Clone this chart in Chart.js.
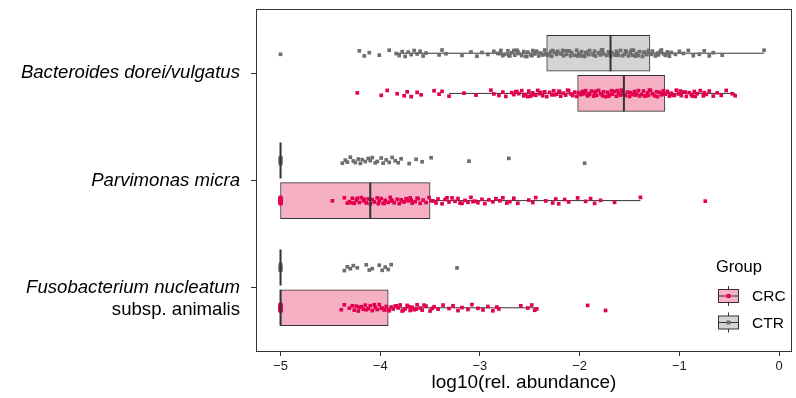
<!DOCTYPE html>
<html>
<head>
<meta charset="utf-8">
<script src="https://cdn.jsdelivr.net/npm/chart.js@4.4.1/dist/chart.umd.min.js"></script>
<style>
  html, body { margin: 0; padding: 0; background: #fff; }
  #wrap { width: 796px; height: 398px; }
</style>
</head>
<body>
<div id="wrap"><canvas id="chart" width="796" height="398"></canvas></div>
<script>
// Taxa shown on the y axis (top to bottom)
const taxa = ['Bacteroides dorei/vulgatus', 'Parvimonas micra', 'Fusobacterium nucleatum'];
const taxaSub = ['', '', 'subsp. animalis'];
const groups = ['CRC', 'CTR'];
const xTicks = [-5, -4, -3, -2, -1, 0];

// Box stats per taxon: [whisker low, Q1, median, Q3, whisker high]
const crcStats = [
    [-3.31, -2.02, -1.556, -1.145, -0.44],
    [-5, -5, -4.10, -3.50, -1.39],
    [-5, -5, -5, -3.92, -2.43]
];
const ctrStats = [
    [-3.84, -2.33, -1.69, -1.295, -0.15],
    [-5, -5, -5, -5, -5],
    [-5, -5, -5, -5, -5]
];

// Sample values, log10(rel. abundance)
const ctrBacteroides = [-5.00, -4.21, -4.16, -4.11, -4.01, -3.91, -3.84, -3.81, -3.78, -3.75, -3.72, -3.69, -3.66, -3.63,
    -3.60, -3.57, -3.54, -3.41, -3.38, -3.34, -3.18, -3.09, -3.03, -2.98, -2.92, -2.86, -2.82, -2.79, -2.77, -2.75,
    -2.72, -2.70, -2.68, -2.65, -2.63, -2.61, -2.58, -2.56, -2.54, -2.52, -2.49, -2.47, -2.45, -2.43, -2.41, -2.39,
    -2.37, -2.35, -2.34, -2.32, -2.29, -2.28, -2.25, -2.23, -2.22, -2.19, -2.17, -2.16, -2.13, -2.11, -2.09, -2.08,
    -2.05, -2.03, -2.01, -1.99, -1.98, -1.95, -1.93, -1.91, -1.90, -1.87, -1.85, -1.84, -1.81, -1.79, -1.77, -1.76,
    -1.73, -1.71, -1.69, -1.68, -1.65, -1.63, -1.62, -1.59, -1.57, -1.55, -1.54, -1.51, -1.49, -1.47, -1.46, -1.43,
    -1.41, -1.40, -1.37, -1.35, -1.33, -1.31, -1.29, -1.27, -1.24, -1.22, -1.21, -1.18, -1.16, -1.14, -1.12, -1.10,
    -1.08, -1.04, -1.00, -0.96, -0.91, -0.86, -0.80, -0.75, -0.70, -0.66, -0.57, -0.15,
    -2.80, -2.71, -2.62, -2.53, -2.44, -2.36, -2.27, -2.18, -2.10, -2.02, -1.94, -1.86, -1.78, -1.70, -1.61, -1.53,
    -1.44, -1.36, -1.28, -1.19, -1.11, -2.66, -2.48, -2.31, -2.14, -1.97, -1.80, -1.64, -1.48, -1.32];
const crcBacteroides = [-4.23, -3.99, -3.93, -3.83, -3.76, -3.73, -3.69, -3.63, -3.59, -3.46, -3.41, -3.38, -3.31, -3.16,
    -3.04, -2.89, -2.86, -2.81, -2.77, -2.74, -2.68, -2.66, -2.63, -2.61, -2.58, -2.56, -2.54, -2.51, -2.49, -2.47,
    -2.44, -2.42, -2.40, -2.37, -2.35, -2.33, -2.30, -2.28, -2.26, -2.23, -2.21, -2.19, -2.16, -2.14, -2.12, -2.09,
    -2.07, -2.05, -2.03, -2.01, -1.99, -1.97, -1.95, -1.94, -1.92, -1.90, -1.88, -1.86, -1.85, -1.83, -1.81, -1.79,
    -1.77, -1.76, -1.74, -1.72, -1.70, -1.68, -1.67, -1.65, -1.63, -1.61, -1.59, -1.58, -1.56, -1.54, -1.52, -1.50,
    -1.49, -1.47, -1.45, -1.43, -1.41, -1.40, -1.38, -1.36, -1.34, -1.32, -1.31, -1.29, -1.27, -1.25, -1.23, -1.22,
    -1.20, -1.18, -1.16, -1.14, -1.12, -1.10, -1.08, -1.06, -1.03, -1.01, -0.98, -0.96, -0.93, -0.90, -0.88, -0.85,
    -0.82, -0.79, -0.76, -0.73, -0.70, -0.66, -0.62, -0.58, -0.53, -0.47, -0.44,
    -2.64, -2.52, -2.39, -2.25, -2.11, -1.98, -1.84, -1.71, -1.57, -1.44, -1.30, -1.17, -1.05, -0.94, -0.84, -0.75,
    -2.46, -2.20, -1.91, -1.62, -1.35, -1.09, -0.99, -0.87];
const ctrParvimonas = [-5, -5, -5, -5, -5, -5, -5, -5, -4.38, -4.35, -4.33, -4.30, -4.27, -4.25, -4.22, -4.20, -4.18,
    -4.15, -4.12, -4.10, -4.08, -4.05, -4.03, -3.99, -3.97, -3.94, -3.91, -3.88, -3.85, -3.82, -3.79, -3.71, -3.64,
    -3.58, -3.49, -3.11, -2.71, -1.95];
const crcParvimonas = [-5, -5, -5, -5, -5, -5, -5, -5, -5, -5, -5, -5, -5, -5, -5, -5, -4.48, -4.36, -4.33, -4.31,
    -4.28, -4.26, -4.24, -4.21, -4.19, -4.17, -4.14, -4.12, -4.10, -4.08, -4.06, -4.03, -4.01, -3.99, -3.97, -3.95,
    -3.92, -3.90, -3.88, -3.86, -3.83, -3.81, -3.79, -3.77, -3.74, -3.72, -3.70, -3.68, -3.65, -3.63, -3.60, -3.57,
    -3.54, -3.51, -3.47, -3.44, -3.42, -3.38, -3.35, -3.31, -3.28, -3.25, -3.22, -3.18, -3.15, -3.12, -3.09, -3.05,
    -3.02, -2.98, -2.95, -2.91, -2.87, -2.84, -2.80, -2.77, -2.73, -2.70, -2.66, -2.62, -2.51, -2.47, -2.44, -2.34,
    -2.27, -2.24, -2.21, -2.15, -2.11, -2.02, -1.94, -1.89, -1.85, -1.79, -1.65, -1.39, -0.74,
    -4.29, -4.16, -4.02, -3.89, -3.76, -3.62, -3.49, -3.33, -3.20, -3.07, -4.23, -3.96, -3.69];
const ctrFusobacterium = [-5, -5, -5, -5, -5, -5, -5, -5, -4.36, -4.33, -4.30, -4.27, -4.23, -4.14, -4.11, -4.08,
    -4.01, -3.98, -3.95, -3.92, -3.89, -3.23];
const crcFusobacterium = [-5, -5, -5, -5, -5, -5, -5, -5, -5, -5, -5, -5, -5, -5, -5, -5, -4.39, -4.36, -4.31, -4.26,
    -4.24, -4.22, -4.19, -4.17, -4.15, -4.12, -4.10, -4.08, -4.05, -4.03, -4.01, -3.98, -3.96, -3.94, -3.91, -3.89,
    -3.87, -3.84, -3.82, -3.80, -3.77, -3.75, -3.73, -3.70, -3.68, -3.66, -3.63, -3.60, -3.58, -3.54, -3.50, -3.46,
    -3.42, -3.37, -3.31, -3.27, -3.22, -3.18, -3.12, -3.08, -3.02, -2.97, -2.92, -2.87, -2.83, -2.81, -2.59, -2.52,
    -2.48, -2.45, -2.43, -1.92, -1.74,
    -4.21, -4.14, -4.06, -3.99, -3.92, -3.85, -3.78, -3.71, -3.64, -3.56, -3.48, -4.28];

// vertical jitter offsets (in category units), reused in turn
const jitter = [0.010, -0.022, 0.025, -0.005, 0.018, -0.028, 0.003, 0.022, -0.015, 0.030, -0.010, 0.013, -0.025,
    0.007, -0.019, 0.026, -0.002, 0.016, -0.030, 0.005, 0.020, -0.012, 0.028, -0.007, 0.011, -0.018, 0.002, -0.026, 0.023];

const samples = {
    CRC: [crcBacteroides, crcParvimonas, crcFusobacterium],
    CTR: [ctrBacteroides, ctrParvimonas, ctrFusobacterium]
};
const stats = { CRC: crcStats, CTR: ctrStats };

const colors = {
    CRC: { fill: '#F6B0C4', point: '#E3004F' },
    CTR: { fill: '#D3D4D3', point: '#6E6E6E' }
};
const lineColor = '#333333';
const dodge = { CTR: -0.1875, CRC: 0.1875 };
const boxHalf = 0.168;
const fontFamily = "'Liberation Sans', Arial, Helvetica, sans-serif";

Chart.defaults.font.family = fontFamily;
Chart.defaults.color = '#000';

function rowPos(i, group) {
    return i + 1 + dodge[group];
}

// build datasets: boxes, whiskers, jittered points, medians
const datasets = [];
groups.forEach(g => {
    datasets.push({
        type: 'bar',
        indexAxis: 'y',
        data: stats[g].map((s, i) => ({ x: [s[1], s[3]], y: rowPos(i, g) })),
        backgroundColor: colors[g].fill,
        borderColor: lineColor,
        borderWidth: 1,
        borderSkipped: false,
        grouped: false,
        barThickness: 36,
        maxBarThickness: 36,
        order: 4
    });
    stats[g].forEach((s, i) => {
        const y = rowPos(i, g);
        [[s[0], s[1]], [s[3], s[4]]].forEach(seg => {
            if (seg[0] === seg[1]) return;
            datasets.push({
                type: 'scatter',
                data: [{ x: seg[0], y: y }, { x: seg[1], y: y }],
                showLine: true,
                borderColor: lineColor,
                borderWidth: 1,
                pointRadius: 0,
                order: 3
            });
        });
        datasets.push({
            type: 'scatter',
            data: [{ x: s[2], y: y - boxHalf }, { x: s[2], y: y + boxHalf }],
            showLine: true,
            borderColor: lineColor,
            borderWidth: 2,
            pointRadius: 0,
            order: 1
        });
    });
    const pts = [];
    samples[g].forEach((vals, i) => {
        vals.forEach((v, k) => {
            pts.push({ x: v, y: rowPos(i, g) + jitter[(k + i * 7 + (g === 'CRC' ? 3 : 0)) % jitter.length] });
        });
    });
    datasets.push({
        type: 'scatter',
        data: pts,
        pointStyle: 'rect',
        pointRadius: 2.6,
        pointBorderWidth: 0,
        pointBackgroundColor: colors[g].point,
        backgroundColor: colors[g].point,
        order: 2
    });
});

// y labels, panel frame and legend
const decorPlugin = {
    id: 'decor',
    afterDraw(chart) {
        const ctx = chart.ctx;
        const area = chart.chartArea;
        const yScale = chart.scales.y;
        ctx.save();

        ctx.strokeStyle = lineColor;
        ctx.lineWidth = 1;
        ctx.strokeRect(Math.round(area.left) + 0.5, Math.round(area.top) + 0.5,
            Math.round(area.right - area.left) - 1, Math.round(area.bottom - area.top) - 1);

        ctx.fillStyle = '#000';
        ctx.textAlign = 'right';
        ctx.textBaseline = 'middle';
        taxa.forEach((name, i) => {
            const y = yScale.getPixelForValue(i + 1);
            ctx.font = 'italic 18.6px ' + fontFamily;
            ctx.fillText(name, area.left - 16, y);
            if (taxaSub[i]) {
                ctx.font = '18.6px ' + fontFamily;
                ctx.fillText(taxaSub[i], area.left - 16, y + 22);
            }
        });

        // legend
        ctx.textAlign = 'left';
        ctx.font = '16.5px ' + fontFamily;
        ctx.fillText('Group', 716, 267);
        groups.forEach((g, k) => {
            const cy = 296 + k * 26.5;
            const cx = 728.5;
            ctx.strokeStyle = lineColor;
            ctx.lineWidth = 1;
            ctx.beginPath();
            ctx.moveTo(cx, cy - 10);
            ctx.lineTo(cx, cy + 10);
            ctx.stroke();
            ctx.fillStyle = colors[g].fill;
            ctx.fillRect(718.5, cy - 6.5, 20, 13);
            ctx.strokeRect(718.5, cy - 6.5, 20, 13);
            ctx.beginPath();
            ctx.moveTo(718.5, cy);
            ctx.lineTo(738.5, cy);
            ctx.stroke();
            ctx.fillStyle = colors[g].point;
            ctx.fillRect(cx - 2, cy - 2, 4, 4);
            ctx.fillStyle = '#000';
            ctx.font = '15.5px ' + fontFamily;
            ctx.fillText(g, 752, cy + 1);
        });
        ctx.restore();
    }
};

new Chart(document.getElementById('chart'), {
    type: 'scatter',
    data: { datasets: datasets },
    options: {
        responsive: false,
        animation: false,
        events: [],
        layout: { padding: { left: 250, right: 1, top: 9, bottom: 0 } },
        plugins: {
            legend: { display: false },
            tooltip: { enabled: false }
        },
        scales: {
            x: {
                type: 'linear',
                position: 'bottom',
                min: -5.246,
                max: 0.13,
                offset: false,
                afterBuildTicks: scale => { scale.ticks = xTicks.map(v => ({ value: v })); },
                afterFit: scale => { scale.height = 46; },
                grid: { offset: false, drawOnChartArea: false, drawTicks: true, tickLength: 4, color: lineColor },
                border: { display: false },
                ticks: {
                    font: { size: 13 },
                    color: '#1a1a1a',
                    padding: 3,
                    maxRotation: 0,
                    callback: v => String(v).replace('-', '\u2212')
                },
                title: {
                    display: true,
                    text: 'log10(rel. abundance)',
                    font: { size: 19 },
                    color: '#000',
                    padding: { top: 0, bottom: 4 }
                }
            },
            y: {
                type: 'linear',
                reverse: true,
                min: 0.4,
                max: 3.6,
                offset: false,
                afterBuildTicks: scale => { scale.ticks = taxa.map((t, i) => ({ value: i + 1 })); },
                afterFit: scale => { scale.width = 6; },
                grid: { offset: false, drawOnChartArea: false, drawTicks: true, tickLength: 5, color: lineColor },
                border: { display: false },
                ticks: { display: false }
            }
        }
    },
    plugins: [decorPlugin]
});
</script>
</body>
</html>
